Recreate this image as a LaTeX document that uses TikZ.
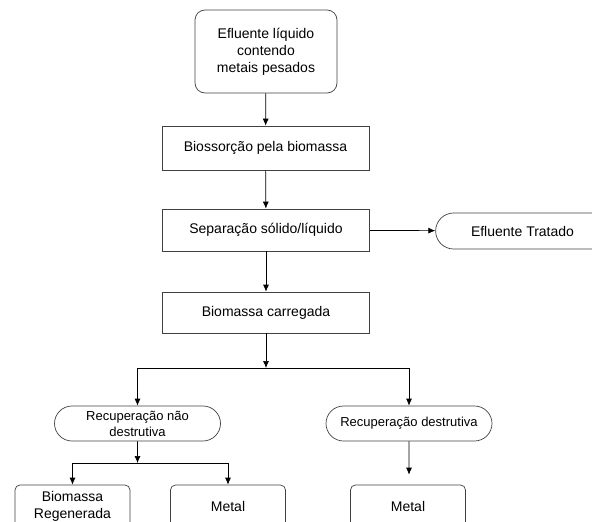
\documentclass[tikz,border=0pt]{standalone}
\usepackage{fontspec}
\setmainfont{Liberation Sans}
\usetikzlibrary{arrows.meta,shapes.misc}

\tikzset{
  caixa/.style={draw=black!75, line width=0.7pt, minimum width=207pt, align=center, font=\fontsize{14}{17}\selectfont},
  oval/.style={draw=black!75, line width=0.7pt, rounded rectangle, minimum width=168pt, minimum height=35pt, align=center, inner sep=1pt, font=\fontsize{13}{16}\selectfont},
  final/.style={draw=black!75, line width=0.7pt, rounded corners=5pt, minimum width=115pt, minimum height=42pt, align=center, font=\fontsize{14}{17}\selectfont},
  seta/.style={line width=0.7pt, -{Latex[length=7pt,width=6pt]}}
}

\begin{document}
\begin{tikzpicture}[x=1pt,y=-1pt]
\useasboundingbox (0,0) rectangle (592,522);
\clip (0,0) rectangle (592,522);
% fluxo principal
\node[caixa, rounded corners=10pt, minimum width=142pt, minimum height=83pt] (efl) at (266,51.5) {Efluente líquido\\contendo\\metais pesados};
\node[caixa, minimum height=44pt] (bio) at (265.5,148) {Biossorção pela biomassa};
\node[caixa, minimum height=42pt] (sep) at (266,230) {Separação sólido/líquido};
\node[caixa, minimum height=41pt] (carr) at (266,312.5) {Biomassa carregada};
\node[oval, rounded rectangle right arc=none, minimum width=175pt, minimum height=36pt, font=\fontsize{14}{17}\selectfont] (trat) at (522.5,231) {Efluente Tratado};
% recuperacao
\node[oval] (naodest) at (137.5,423.5) {Recuperação não\\destrutiva};
\node[oval] (dest) at (409,423.5) {Recuperação destrutiva};
\node[final] (biomreg) at (72.5,506) {Biomassa\\Regenerada};
\node[final] (metal1) at (228,506) {Metal};
\node[final] (metal2) at (408,506) {Metal};
\coordinate (split) at (266,368);
\coordinate (jl) at (137.5,463);
% setas
\draw[seta] (efl) -- (bio);
\draw[seta] (bio) -- (sep);
\draw[seta] (sep) -- (carr);
\draw[seta] (sep) -- (trat);
\draw[seta] (carr) -- (split);
\draw[seta] (split) -| (naodest.north);
\draw[seta] (split) -| (dest.north);
\draw[seta] (naodest) -- (jl);
\draw[seta] (jl) -| (biomreg.north);
\draw[seta] (jl) -| (metal1.north);
\draw[seta, shorten >=10pt] (dest) -- (dest |- metal2.north);
\end{tikzpicture}
\end{document}
